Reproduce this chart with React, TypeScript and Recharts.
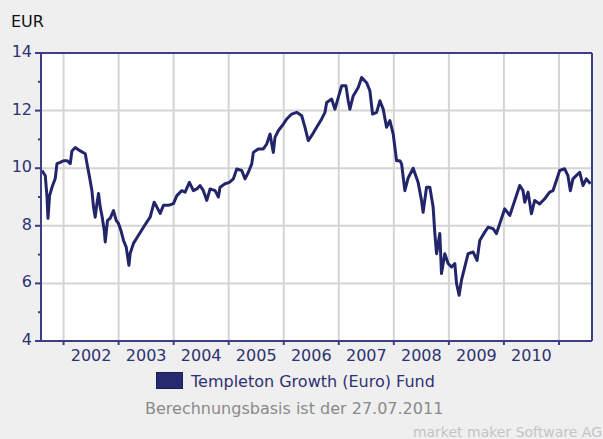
import React from "react";
import { LineChart, Line, XAxis, YAxis, CartesianGrid } from "recharts";

// ── Data ──────────────────────────────────────────────────────

const dates = [
  2001.608, 2001.668, 2001.699, 2001.717, 2001.746, 2001.79, 2001.849, 2001.88, 2001.94, 2002.0,
  2002.062, 2002.122, 2002.152, 2002.212, 2002.303, 2002.394, 2002.425, 2002.472, 2002.515, 2002.544,
  2002.575, 2002.606, 2002.635, 2002.666, 2002.697, 2002.739, 2002.757, 2002.798, 2002.847, 2002.907,
  2002.956, 2002.998, 2003.042, 2003.089, 2003.138, 2003.187, 2003.21, 2003.27, 2003.361, 2003.452,
  2003.513, 2003.573, 2003.646, 2003.695, 2003.755, 2003.815, 2003.905, 2003.996, 2004.058, 2004.148,
  2004.208, 2004.286, 2004.359, 2004.421, 2004.48, 2004.54, 2004.602, 2004.662, 2004.753, 2004.813,
  2004.843, 2004.934, 2005.012, 2005.085, 2005.146, 2005.237, 2005.297, 2005.357, 2005.419, 2005.448,
  2005.538, 2005.629, 2005.691, 2005.751, 2005.782, 2005.811, 2005.841, 2005.901, 2005.992, 2006.054,
  2006.144, 2006.235, 2006.326, 2006.386, 2006.446, 2006.507, 2006.598, 2006.689, 2006.749, 2006.78,
  2006.87, 2006.93, 2006.99, 2007.052, 2007.13, 2007.171, 2007.202, 2007.262, 2007.353, 2007.415,
  2007.505, 2007.565, 2007.614, 2007.687, 2007.747, 2007.807, 2007.868, 2007.928, 2007.988, 2008.05,
  2008.11, 2008.141, 2008.2, 2008.26, 2008.351, 2008.442, 2008.503, 2008.532, 2008.594, 2008.654,
  2008.714, 2008.745, 2008.776, 2008.835, 2008.866, 2008.926, 2008.986, 2009.048, 2009.108, 2009.139,
  2009.186, 2009.229, 2009.289, 2009.349, 2009.44, 2009.512, 2009.561, 2009.652, 2009.712, 2009.803,
  2009.864, 2009.924, 2010.015, 2010.106, 2010.197, 2010.287, 2010.347, 2010.378, 2010.438, 2010.5,
  2010.559, 2010.65, 2010.741, 2010.831, 2010.891, 2010.953, 2011.013, 2011.103, 2011.163, 2011.207,
  2011.254, 2011.376, 2011.436, 2011.497, 2011.571,
];

const fundValues = [
  9.92, 9.74, 9.0, 8.26, 9.05, 9.34, 9.64, 10.16, 10.2, 10.26,
  10.26, 10.16, 10.6, 10.72, 10.6, 10.5, 10.16, 9.69, 9.22, 8.65,
  8.3, 8.77, 9.12, 8.65, 8.36, 7.84, 7.44, 8.19, 8.26, 8.53,
  8.19, 8.08, 7.84, 7.49, 7.26, 6.63, 7.04, 7.39, 7.67, 7.95,
  8.13, 8.3, 8.82, 8.65, 8.43, 8.71, 8.71, 8.77, 9.05, 9.22,
  9.17, 9.51, 9.22, 9.28, 9.4, 9.22, 8.88, 9.28, 9.22, 9.0,
  9.34, 9.46, 9.51, 9.63, 9.97, 9.92, 9.63, 9.86, 10.15, 10.55,
  10.67, 10.67, 10.84, 11.19, 10.84, 10.55, 11.07, 11.3, 11.53, 11.71,
  11.88, 11.94, 11.82, 11.42, 10.96, 11.13, 11.42, 11.71, 11.94, 12.28,
  12.4, 12.05, 12.45, 12.86, 12.86, 12.34, 12.05, 12.51, 12.8, 13.15,
  12.97, 12.69, 11.88, 11.94, 12.34, 12.05, 11.42, 11.65, 11.19, 10.26,
  10.26, 10.15, 9.22, 9.66, 10.0, 9.5, 8.88, 8.47, 9.34, 9.34,
  8.65, 7.73, 7.03, 7.73, 6.34, 7.03, 6.69, 6.57, 6.69, 6.0,
  5.59, 6.11, 6.57, 7.03, 7.09, 6.8, 7.49, 7.78, 7.95, 7.9,
  7.73, 8.07, 8.59, 8.36, 8.88, 9.4, 9.22, 8.82, 9.17, 8.42,
  8.88, 8.76, 8.94, 9.17, 9.22, 9.57, 9.92, 9.98, 9.74, 9.22,
  9.63, 9.86, 9.4, 9.63, 9.46,
];

const yearTicks = [2002, 2003, 2004, 2005, 2006, 2007, 2008, 2009, 2010, 2011];
const yearLabelTicks = [2002.5, 2003.5, 2004.5, 2005.5, 2006.5, 2007.5, 2008.5, 2009.5, 2010.5];
const valueTicks = [4, 5, 6, 7, 8, 9, 10, 11, 12, 13, 14];
const gridValues = [6, 8, 10, 12];
const xDomain = [2001.59, 2011.6];
const yDomain = [4, 14];

const seriesName = "Templeton Growth (Euro) Fund";
const unitLabel = "EUR";
const footnote = "Berechnungsbasis ist der 27.07.2011";
const credit = "market maker Software AG";

// ── Styles ────────────────────────────────────────────────────

const FONT = "DejaVu Sans, Verdana, sans-serif";
const NAVY_TEXT = "#2e3172";
const NAVY_AXIS = "#3b3e84";
const NAVY_LINE = "#23256a";
const GRID = "#d4d4d4";
const BG = "#efefef";

const data = dates.map((t, i) => ({ t, v: fundValues[i] }));

// left axis: long tick + label on even values, short tick on odd ones
const YTick = (props: any) => {
  const { x, y, payload } = props;
  const major = payload.value % 2 === 0;
  return (
    <g>
      <line x1={x - (major ? 6 : 3)} x2={x} y1={y} y2={y} stroke={NAVY_AXIS} strokeWidth={2} />
      {major && (
        <text x={x - 9} y={y} dy={4} textAnchor="end" fill={NAVY_TEXT} fontSize={16} fontFamily={FONT}>
          {payload.value}
        </text>
      )}
    </g>
  );
};

const NoLabel = () => <g />;

export default function App() {
  return (
    <div style={{ position: "relative", width: 603, height: 439, background: BG, fontFamily: FONT }}>
      <style>{"body{margin:0}"}</style>
      <LineChart
        width={603}
        height={439}
        data={data}
        margin={{ top: 52, right: 10, left: 0, bottom: 69 }}
      >
        <CartesianGrid
          stroke={GRID}
          strokeWidth={2}
          fill="#ffffff"
          horizontalValues={gridValues}
          verticalValues={yearTicks}
        />
        <XAxis
          dataKey="t"
          type="number"
          domain={xDomain}
          ticks={yearTicks}
          allowDataOverflow
          tick={NoLabel}
          tickSize={4}
          height={4}
          stroke={NAVY_AXIS}
          strokeWidth={2}
        />
        <XAxis
          xAxisId="labels"
          dataKey="t"
          type="number"
          domain={xDomain}
          ticks={yearLabelTicks}
          allowDataOverflow
          tickFormatter={(v: number) => String(Math.floor(v))}
          tick={{ fill: NAVY_TEXT, fontSize: 16, fontFamily: FONT }}
          tickSize={0}
          tickMargin={5}
          height={25}
          tickLine={false}
          axisLine={false}
        />
        <XAxis
          xAxisId="top"
          orientation="top"
          type="number"
          domain={xDomain}
          allowDataOverflow
          height={1}
          tick={NoLabel}
          tickLine={false}
          stroke={NAVY_AXIS}
          strokeWidth={2}
        />
        <YAxis
          type="number"
          domain={yDomain}
          ticks={valueTicks}
          allowDataOverflow
          width={41}
          tickSize={0}
          tickMargin={0}
          tickLine={false}
          tick={YTick}
          stroke={NAVY_AXIS}
          strokeWidth={2}
        />
        <YAxis
          yAxisId="right"
          orientation="right"
          type="number"
          domain={yDomain}
          allowDataOverflow
          width={1}
          tick={NoLabel}
          tickLine={false}
          stroke={NAVY_AXIS}
          strokeWidth={2}
        />
        <Line
          dataKey="v"
          name={seriesName}
          type="linear"
          stroke={NAVY_LINE}
          strokeWidth={3}
          strokeLinejoin="round"
          dot={false}
          isAnimationActive={false}
        />
      </LineChart>
      <svg width={603} height={439} style={{ position: "absolute", left: 0, top: 0, pointerEvents: "none" }}>
        <text x={11} y={27} fontSize={16} fill="#111111" fontFamily={FONT}>{unitLabel}</text>
        <rect x={156.5} y={372.5} width={26} height={16} fill="#262a6e" stroke="#1b1d55" />
        <text x={191} y={387} fontSize={16} fill={NAVY_TEXT} fontFamily={FONT}>{seriesName}</text>
        <text x={145} y={414} fontSize={16} fill="#8a8a8a" fontFamily={FONT}>{footnote}</text>
        <text x={602} y={437} fontSize={14} fill="#c4c4c4" textAnchor="end" fontFamily={FONT}>{credit}</text>
      </svg>
    </div>
  );
}
